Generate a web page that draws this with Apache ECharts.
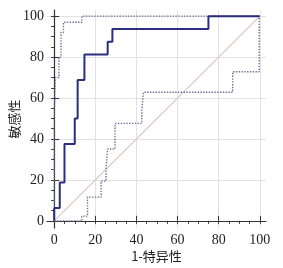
<!DOCTYPE html>
<html><head><meta charset="utf-8">
<script src="https://cdn.jsdelivr.net/npm/echarts@6/dist/echarts.min.js"></script>
<style>html,body{margin:0;padding:0;background:#fff}#c{width:283px;height:268px}</style>
</head><body><div id="c"></div>
<script>
// ROC curve (step corners)
var rocX = [0, 0, 2.7, 2.7, 5, 5, 10, 10, 11.4, 11.4, 14.7, 14.7, 26, 26, 28.3, 28.3, 75, 75, 100];
var rocY = [0, 6.25, 6.25, 18.75, 18.75, 37.5, 37.5, 50, 50, 68.75, 68.75, 81.25, 81.25, 87.5, 87.5, 93.75, 93.75, 100, 100];
// upper confidence bound
var upX = [0, 0, 0.6, 0.6, 2.3, 2.3, 3.3, 3.3, 4.5, 4.5, 13.5, 13.5, 100];
var upY = [0, 51, 51, 70, 70, 80, 80, 92, 92, 97, 97, 100, 100];
// lower confidence bound
var loX = [0, 13.4, 13.4, 16.2, 16.2, 22.8, 22.8, 25.2, 25.2, 26, 26, 29.6, 29.6, 42.6, 42.6, 43.4, 43.4, 86.8, 86.8, 99.7, 99.7];
var loY = [0, 0, 2.3, 2.3, 11.6, 11.6, 19.4, 19.4, 25.7, 25.7, 35.1, 35.1, 47.6, 47.6, 54.5, 54.5, 62.8, 62.8, 72.8, 72.8, 100];
// reference diagonal
var diagX = [0, 100];
var diagY = [0, 100];
var majorTicks = [0, 20, 40, 60, 80, 100];
var minorTicks = [0,5,10,15,20,25,30,35,40,45,50,55,60,65,70,75,80,85,90,95,100];
var xName = '1-特异性';
var yName = '敏感性';

function pairs(xs, ys){ return xs.map(function(x,i){ return [x, ys[i]]; }); }

var serif = '"Liberation Serif", "DejaVu Serif", serif';
var cjk = '"Noto Sans CJK SC", sans-serif';
var lo = -3.5, hi = 103;

function mainAxis(name, isX){
  return {
    type: 'value', min: lo, max: hi,
    name: name, nameLocation: 'middle', nameGap: isX ? 22 : 26, nameMoveOverlap: false,
    nameTextStyle: {fontFamily: cjk, fontSize: 13, color: '#222'},
    axisLine: {show: true, lineStyle: {color: '#333', width: 1.2}},
    axisTick: {show: true, inside: true, length: 5, customValues: majorTicks, lineStyle: {color: '#333'}},
    axisLabel: {show: true, customValues: majorTicks, fontFamily: serif, fontSize: 14, color: '#222', margin: isX ? 5 : 3},
    splitLine: {show: true, lineStyle: {color: '#e2e2e2', width: 1}}
  };
}
function minorAxis(){
  return {
    type: 'value', min: lo, max: hi,
    axisLine: {show: false},
    axisTick: {show: true, inside: true, length: 3, customValues: minorTicks, lineStyle: {color: '#333'}},
    axisLabel: {show: false},
    splitLine: {show: false}
  };
}

var chart = echarts.init(document.getElementById('c'), null, {renderer: 'canvas'});
chart.setOption({
  animation: false,
  backgroundColor: '#fff',
  grid: {left: 47, right: 17, top: 10, bottom: 40, containLabel: false, outerBoundsMode: 'none'},
  xAxis: [mainAxis(xName, true), minorAxis()],
  yAxis: [mainAxis(yName, false), minorAxis()],
  series: [
    {type: 'line', data: pairs(diagX, diagY), symbol: 'none', lineStyle: {color: '#dcc5c2', width: 1.2}, z: 1},
    {type: 'line', data: pairs(loX, loY), symbol: 'none', lineStyle: {color: '#6f6f98', width: 1.4, type: 'dotted'}, z: 2},
    {type: 'line', data: pairs(upX, upY), symbol: 'none', lineStyle: {color: '#6f6f98', width: 1.4, type: 'dotted'}, z: 2},
    {type: 'line', data: pairs(rocX, rocY), symbol: 'none', lineStyle: {color: '#2a2e7c', width: 2}, z: 3}
  ]
});
</script></body></html>
